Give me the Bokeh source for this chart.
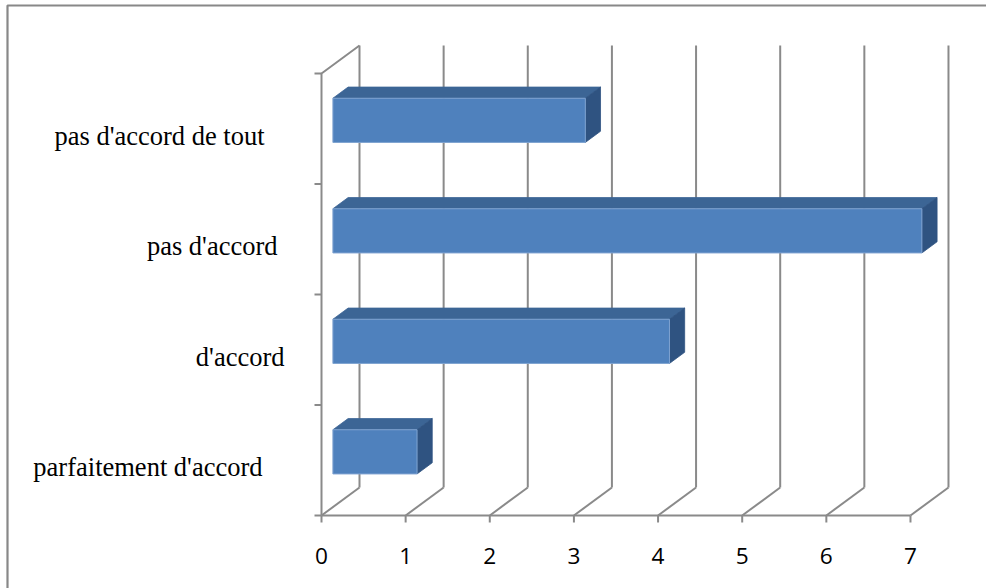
import numpy as np
from bokeh.plotting import figure
from bokeh.models import Range1d, ColumnDataSource
from bokeh.core.properties import value
from bokeh.embed import file_html
from bokeh.resources import INLINE

# --- data -------------------------------------------------------------
categories = ["parfaitement d'accord", "d'accord", "pas d'accord", "pas d'accord de tout"]
counts = [1, 4, 7, 3]
tick_values = [0, 1, 2, 3, 4, 5, 6, 7]
tick_labels = ["0", "1", "2", "3", "4", "5", "6", "7"]

# --- layout -----------------------------------------------------------
W, H = 986, 588
X0, Y0 = 321.0, 515.0          # canvas pixel of value 0 / bottom of category axis
PX, PY = 84.14, 110.5          # pixels per value unit / per category band
DX, DY = 38.0 / PX, 28.0 / PY  # 3D depth offset of the back wall
FRONT, BACK = 0.3, 0.7         # depth span of the bars
BAR_H = 0.4                    # bar thickness inside a band
label_x_off = [-59, -37, -44, -57]

GRID = "#8a8a8a"
FACE, TOP, SIDE = "#4f81bd", "#3c6595", "#2f5381"


def px_x(px):
    return (px - X0) / PX


def px_y(py):
    return (Y0 - py) / PY


p = figure(width=W, height=H, output_backend="svg", toolbar_location=None,
           x_range=Range1d(px_x(0), px_x(W)), y_range=Range1d(px_y(H), px_y(0)),
           min_border=0, outline_line_color=None)
p.axis.visible = False
p.grid.visible = False
p.background_fill_color = "white"

# outer chart frame (left and top edges)
p.line([px_x(7), px_x(7), px_x(W + 20)], [px_y(H + 20), px_y(5), px_y(5)],
       line_color="#888888", line_width=2.2)

ncat = len(categories)
xmax = tick_values[-1]

# back-wall gridlines and floor diagonals
gx = np.array(tick_values, dtype=float)
p.segment(x0=gx + DX, y0=np.full_like(gx, DY), x1=gx + DX, y1=np.full_like(gx, ncat + DY),
          line_color=GRID, line_width=2)
p.segment(x0=gx, y0=np.zeros_like(gx), x1=gx + DX, y1=np.full_like(gx, DY),
          line_color=GRID, line_width=2)

# value axis along the front of the floor, with tick marks
p.line([0, xmax], [0, 0], line_color=GRID, line_width=2)
p.segment(x0=gx, y0=np.zeros_like(gx), x1=gx, y1=np.full_like(gx, -7 / PY),
          line_color=GRID, line_width=2)

# category axis: front edge of the side wall, its top edge and tick marks
p.line([0, 0, DX], [0, ncat, ncat + DY], line_color=GRID, line_width=2)
cy = np.arange(ncat + 1, dtype=float)
p.segment(x0=np.full_like(cy, -7 / PX), y0=cy, x1=np.zeros_like(cy), y1=cy,
          line_color=GRID, line_width=2)

# 3D bars: front face, top face and right side face
vals = np.array(counts, dtype=float)
idx = np.arange(ncat, dtype=float)
lo = idx + 0.5 - BAR_H / 2
hi = idx + 0.5 + BAR_H / 2
fx, fy = FRONT * DX, FRONT * DY
bx, by = BACK * DX, BACK * DY

top_xs = [[fx, v + fx, v + bx, bx] for v in vals]
top_ys = [[h + fy, h + fy, h + by, h + by] for h in hi]
side_xs = [[v + fx, v + bx, v + bx, v + fx] for v in vals]
side_ys = [[l + fy, l + by, h + by, h + fy] for l, h in zip(lo, hi)]

p.patches(xs=top_xs, ys=top_ys, fill_color=TOP, line_color=TOP, line_width=0.8)
p.patches(xs=side_xs, ys=side_ys, fill_color=SIDE, line_color=SIDE, line_width=0.8)
p.quad(left=np.full_like(vals, fx), right=vals + fx, bottom=lo + fy, top=hi + fy,
       fill_color=FACE, line_color="#7fa3d1", line_width=1)

# tick labels on the value axis
tsrc = ColumnDataSource(dict(x=tick_values, y=[0] * len(tick_values), t=tick_labels))
p.text(x="x", y="y", text="t", source=tsrc,
       text_font=value("Open Sans"), text_font_size="17pt",
       text_color="black", text_align="center", text_baseline="alphabetic", y_offset=40)

# category labels
src = ColumnDataSource(dict(x=[0] * ncat, y=list(idx + 0.5), t=categories, xo=label_x_off))
p.text(x="x", y="y", text="t", source=src, x_offset="xo", y_offset=7,
       text_font=value("Liberation Serif"), text_font_size=value("26.5px"), text_color="black",
       text_align="right", text_baseline="alphabetic")

open("out.html", "w").write(file_html(p, INLINE))
